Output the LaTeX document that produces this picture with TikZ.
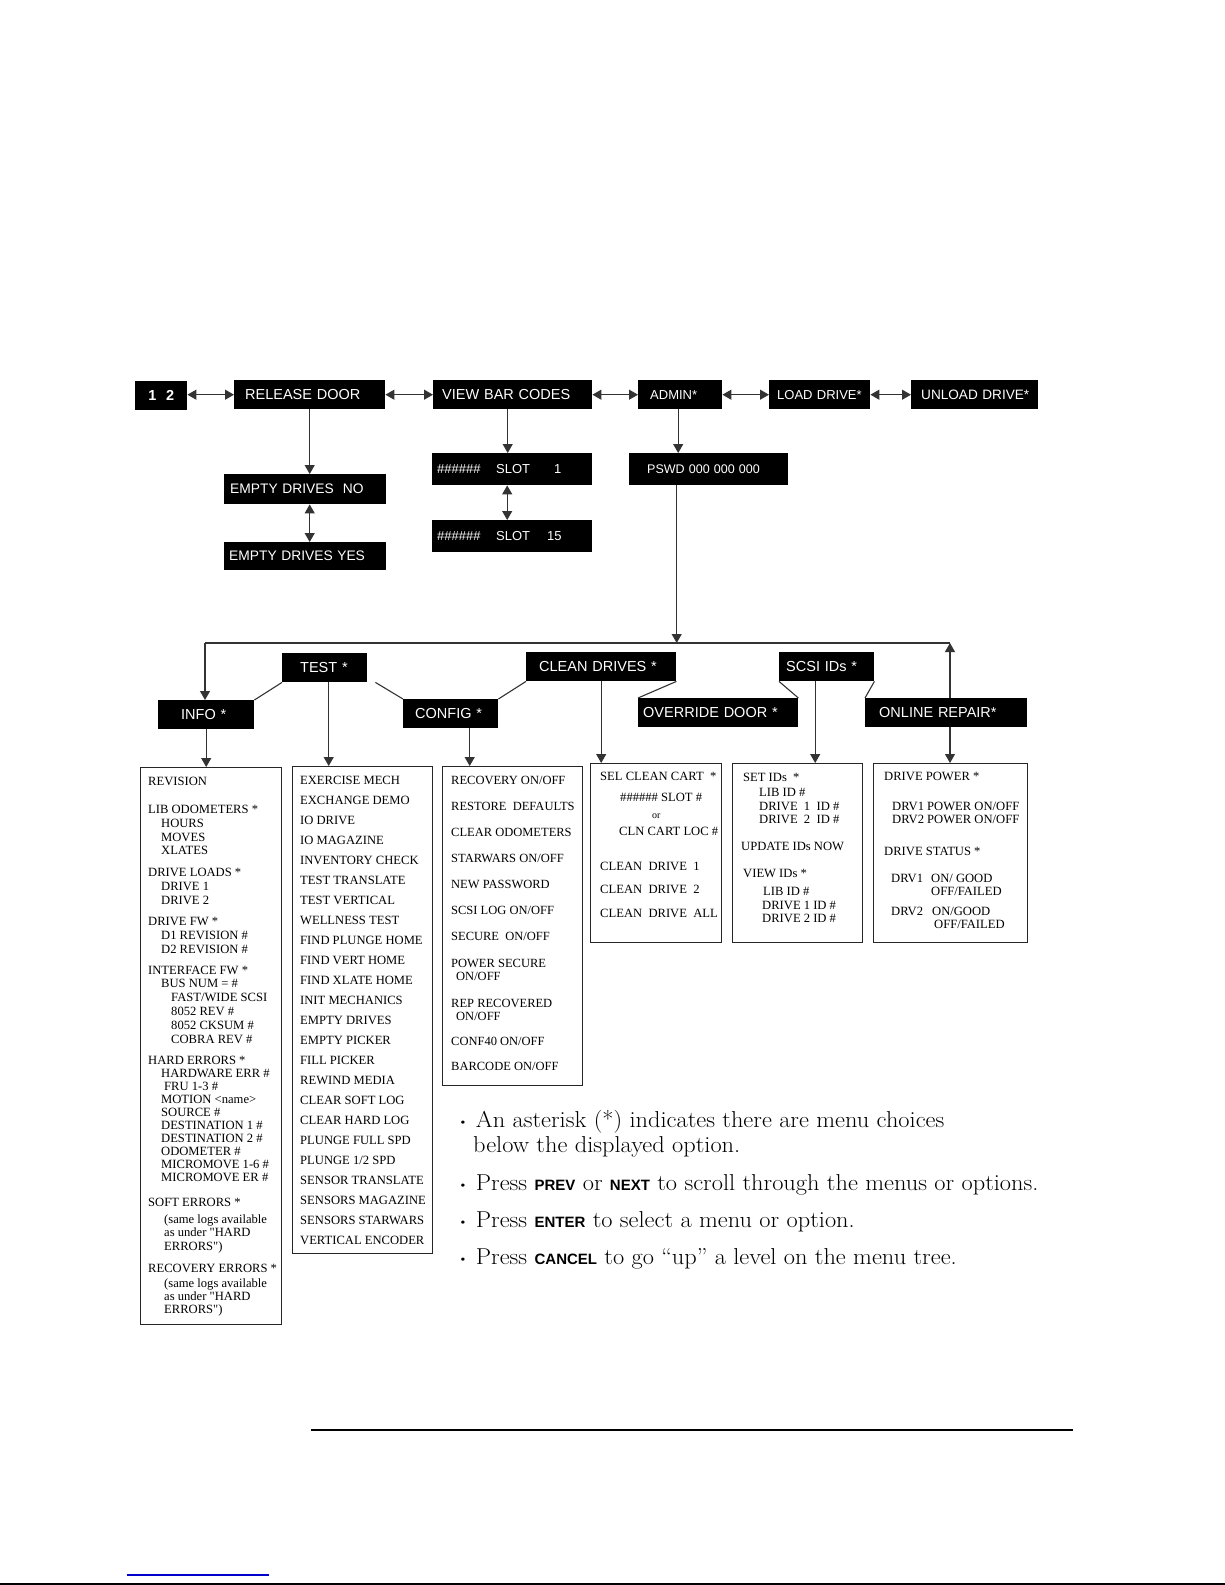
\documentclass[tikz,border=0pt]{standalone}
\usepackage{fontspec}
\newfontfamily\menusans{Liberation Sans}
\newfontfamily\listserif{Liberation Serif}
\newfontfamily\notefont[FakeStretch=1.06,Ligatures=TeX]{Latin Modern Roman}
\usetikzlibrary{arrows.meta}
\newcommand{\menusize}[1]{\menusans\fontsize{#1}{#1}\selectfont}
\newcommand{\listsize}[2]{\listserif\fontsize{#1}{#2}\selectfont}
\newcommand{\indby}[1]{\hspace*{#1pt}}
\newcommand{\btn}[1]{{\menusans\bfseries\fontsize{15}{15}\selectfont #1}}
\newcommand{\dotmark}{\raisebox{2pt}{\fontsize{12}{12}\selectfont\textbullet}}

\begin{document}
\begin{tikzpicture}[x=1pt,y=-1pt,
  menu/.style={fill=black,text=white,anchor=north west,inner ysep=0pt,
               align=left,minimum height=29pt,font=\menusize{14.5}},
  listbox/.style={draw=black!85,line width=1.1pt,anchor=north west,inner sep=0pt},
  listtext/.style={anchor=north west,inner sep=0pt,align=left,font=\listsize{12.6}{13.8}},
  wire/.style={draw=black!80,line width=1.1pt},
  arrowto/.style={-{Triangle[length=9pt,width=10pt]}},
  arrowboth/.style={{Triangle[length=9pt,width=10pt]}-{Triangle[length=9pt,width=10pt]}},
  bullettext/.style={anchor=base west,inner sep=0pt,align=left,font=\notefont\fontsize{23}{25.3}\selectfont}
]
  \useasboundingbox (0,0) rectangle (1225,1585);

  % top row of menus
  \node[menu,text width=44pt,inner xsep=4pt,align=center,
        font=\menusans\bfseries\fontsize{14.5}{14.5}\selectfont] (onetwo) at (135,381) {1\ \ 2};
  \node[menu,text width=129pt,inner xsep=11pt] (release) at (234,380) {RELEASE DOOR};
  \node[menu,text width=141pt,inner xsep=9pt] (viewbar) at (433,380) {VIEW BAR CODES};
  \node[menu,text width=60pt,inner xsep=12pt,font=\menusize{13}] (admin) at (638,380) {ADMIN*};
  \node[menu,text width=85pt,inner xsep=8pt,font=\menusize{13}] (loaddrive) at (769,380) {LOAD DRIVE*};
  \node[menu,text width=113pt,inner xsep=7pt,font=\menusize{13.6}] (unload) at (911,380) {\hspace*{3pt}UNLOAD DRIVE*};

  % second level
  \node[menu,text width=150pt,inner xsep=6pt,minimum height=30pt,font=\menusize{13.8}] (emptyno) at (224,474) {EMPTY DRIVES\ \ NO};
  \node[menu,text width=152pt,inner xsep=5pt,minimum height=28pt,font=\menusize{13.8}] (emptyyes) at (224,542) {EMPTY DRIVES YES};
  \node[menu,text width=150pt,inner xsep=5pt,minimum height=32pt,font=\menusize{13}] (slotfirst) at (432,453)
    {\makebox[59pt][l]{\#\#\#\#\#\#}\makebox[58pt][l]{SLOT}1};
  \node[menu,text width=150pt,inner xsep=5pt,minimum height=32pt,font=\menusize{13}] (slotlast) at (432,520)
    {\makebox[59pt][l]{\#\#\#\#\#\#}\makebox[51pt][l]{SLOT}15};
  \node[menu,text width=123pt,inner xsep=18pt,minimum height=32pt,font=\menusize{12.5}] (pswd) at (629,453) {PSWD 000 000 000};

  % admin menus
  \node[menu,text width=49pt,inner xsep=18pt] (test) at (282,653) {TEST *};
  \node[menu,text width=124pt,inner xsep=13pt] (clean) at (526,652) {CLEAN DRIVES *};
  \node[menu,text width=81pt,inner xsep=7pt] (scsi) at (779,652) {SCSI IDs *};
  \node[menu,text width=50pt,inner xsep=23pt] (info) at (158,700) {INFO *};
  \node[menu,text width=71pt,inner xsep=12pt] (config) at (403,699) {CONFIG *};
  \node[menu,text width=150pt,inner xsep=5pt] (override) at (638,698) {OVERRIDE DOOR *};
  \node[menu,text width=134pt,inner xsep=14pt] (online) at (865,698) {ONLINE REPAIR*};

  % option lists
  \node[listbox,minimum width=141pt,minimum height=557pt] (infobox) at (140,767) {};
  \node[listbox,minimum width=140pt,minimum height=487pt] (testbox) at (292,766) {};
  \node[listbox,minimum width=140pt,minimum height=319pt] (configbox) at (442,766) {};
  \node[listbox,minimum width=131pt,minimum height=179pt] (cleanbox) at (590,763) {};
  \node[listbox,minimum width=130pt,minimum height=179pt] (scsibox) at (732,763) {};
  \node[listbox,minimum width=154pt,minimum height=179pt] (onlinebox) at (873,763) {};

  \node[listtext] (infolist) at (148,777) {REVISION\\[14.2pt]
    LIB ODOMETERS *\\
    \indby{13}HOURS\\
    \indby{13}MOVES\\
    \indby{13}XLATES\\[8.2pt]
    DRIVE LOADS *\\
    \indby{13}DRIVE 1\\
    \indby{13}DRIVE 2\\[7.2pt]
    DRIVE FW *\\
    \indby{13}D1 REVISION \#\\
    \indby{13}D2 REVISION \#\\[7.2pt]
    INTERFACE FW *\\
    \indby{13}BUS NUM = \#\\
    \indby{23}FAST/WIDE SCSI\\
    \indby{23}8052 REV \#\\
    \indby{23}8052 CKSUM \#\\
    \indby{23}COBRA REV \#\\[7.2pt]
    HARD ERRORS *\\[-0.8pt]
    \indby{13}HARDWARE ERR \#\\[-0.8pt]
    \indby{16}FRU 1-3 \#\\[-0.8pt]
    \indby{13}MOTION <name>\\[-0.8pt]
    \indby{13}SOURCE \#\\[-0.8pt]
    \indby{13}DESTINATION 1 \#\\[-0.8pt]
    \indby{13}DESTINATION 2 \#\\[-0.8pt]
    \indby{13}ODOMETER \#\\[-0.8pt]
    \indby{13}MICROMOVE 1-6 \#\\[-0.8pt]
    \indby{13}MICROMOVE ER \#\\[11.2pt]
    SOFT ERRORS *\\[3.2pt]
    \indby{16}(same logs available\\
    \indby{16}as under "HARD\\
    \indby{16}ERRORS")\\[8.2pt]
    RECOVERY ERRORS *\\[1pt]
    \indby{16}(same logs available\\[-0.6pt]
    \indby{16}as under "HARD\\[-0.6pt]
    \indby{16}ERRORS")};

  \node[listtext,font=\listsize{12.6}{20}] (testlist) at (300,776) {EXERCISE MECH\\
    EXCHANGE DEMO\\ IO DRIVE\\ IO MAGAZINE\\ INVENTORY CHECK\\ TEST TRANSLATE\\
    TEST VERTICAL\\ WELLNESS TEST\\ FIND PLUNGE HOME\\ FIND VERT HOME\\
    FIND XLATE HOME\\ INIT MECHANICS\\ EMPTY DRIVES\\ EMPTY PICKER\\ FILL PICKER\\
    REWIND MEDIA\\ CLEAR SOFT LOG\\ CLEAR HARD LOG\\ PLUNGE FULL SPD\\
    PLUNGE 1/2 SPD\\ SENSOR TRANSLATE\\ SENSORS MAGAZINE\\ SENSORS STARWARS\\
    VERTICAL ENCODER};

  \node[listtext,font=\listsize{12.5}{13}] (configlist) at (451,776) {RECOVERY ON/OFF\\[13pt]
    RESTORE\ \ DEFAULTS\\[13pt]
    CLEAR ODOMETERS\\[13pt]
    STARWARS ON/OFF\\[13pt]
    NEW PASSWORD\\[13pt]
    SCSI LOG ON/OFF\\[13pt]
    SECURE\ \ ON/OFF\\[14pt]
    POWER SECURE\\
    \indby{5}ON/OFF\\[14pt]
    REP RECOVERED\\
    \indby{5}ON/OFF\\[12pt]
    CONF40 ON/OFF\\[12pt]
    BARCODE ON/OFF};

  \node[listtext,font=\listsize{12.6}{17}] (cleanlist) at (600,772) {SEL CLEAN CART\ \ *\\[4pt]
    \indby{20}\#\#\#\#\#\# SLOT \#\\
    \indby{52}{\fontsize{10}{10}\selectfont or}\\
    \indby{19}CLN CART LOC \#\\[18pt]
    CLEAN\ \ DRIVE\ \ 1\\[6pt]
    CLEAN\ \ DRIVE\ \ 2\\[7pt]
    CLEAN\ \ DRIVE\ \ ALL};

  \node[listtext,font=\listsize{12.6}{13.5}] (scsilist) at (741,773) {\indby{2}SET IDs\ \ *\\[1.5pt]
    \indby{18}LIB ID \#\\
    \indby{18}DRIVE\ \ 1\ \ ID \#\\
    \indby{18}DRIVE\ \ 2\ \ ID \#\\[13.5pt]
    UPDATE IDs NOW\\[13.5pt]
    \indby{2}VIEW IDs *\\[4.5pt]
    \indby{22}LIB ID \#\\
    \indby{21}DRIVE 1 ID \#\\
    \indby{21}DRIVE 2 ID \#};

  \node[listtext,font=\listsize{12.6}{13}] (onlinelist) at (884,772) {DRIVE POWER *\\[17pt]
    \indby{8}DRV1 POWER ON/OFF\\
    \indby{8}DRV2 POWER ON/OFF\\[19pt]
    DRIVE STATUS *\\[14pt]
    \indby{7}\makebox[40pt][l]{DRV1}ON/ GOOD\\
    \indby{47}OFF/FAILED\\[7pt]
    \indby{7}\makebox[41pt][l]{DRV2}ON/GOOD\\
    \indby{50}OFF/FAILED};

  % connectors between menus
  \coordinate (busL) at (205,643);
  \coordinate (busR) at (950,643);
  \draw[wire,arrowboth] (onetwo.east |- release.west) -- (release.west);
  \draw[wire,arrowboth] (release.east) -- (release.east -| viewbar.west);
  \draw[wire,arrowboth] (viewbar.east) -- (viewbar.east -| admin.west);
  \draw[wire,arrowboth] (admin.east) -- (admin.east -| loaddrive.west);
  \draw[wire,arrowboth] (loaddrive.east) -- (loaddrive.east -| unload.west);
  \draw[wire,arrowto] (release.south) -- (release.south |- emptyno.north);
  \draw[wire,arrowboth] (emptyno.south -| release.south) -- (emptyyes.north -| release.south);
  \draw[wire,arrowto] ([xshift=-5pt]viewbar.south) -- ([xshift=-5pt]viewbar.south |- slotfirst.north);
  \draw[wire,arrowboth] ([xshift=-5pt]slotfirst.south) -- ([xshift=-5pt]slotfirst.south |- slotlast.north);
  \draw[wire,arrowto] ([xshift=-2pt]admin.south) -- ([xshift=-2pt]admin.south |- pswd.north);
  \draw[wire,arrowto] ([xshift=-32pt]pswd.south) -- ([xshift=-32pt]pswd.south |- busL);
  \draw[wire] (busL) -- (busR);
  \draw[wire,arrowto] (busL) -- (busL |- info.north);
  \draw[wire,arrowto] (online.north -| busR) -- (busR);
  \draw[wire] (info.north east) -- (test.south west);
  \draw[wire] ([xshift=8pt]test.south east) -- (config.north west);
  \draw[wire] (config.north east) -- (clean.south west);
  \draw[wire] (clean.south east) -- (override.north west);
  \draw[wire] (scsi.south west) -- (override.north east);
  \draw[wire] (scsi.south east) -- (online.north west);

  % menus down to their lists
  \draw[wire,arrowto] (info.south) -- (info.south |- infobox.north);
  \draw[wire,arrowto] ([xshift=4pt]test.south) -- ([xshift=4pt]test.south |- testbox.north);
  \draw[wire,arrowto] ([xshift=19pt]config.south) -- ([xshift=19pt]config.south |- configbox.north);
  \draw[wire,arrowto] (clean.south) -- (clean.south |- cleanbox.north);
  \draw[wire,arrowto] ([xshift=-11.5pt]scsi.south) -- ([xshift=-11.5pt]scsi.south |- scsibox.north);
  \draw[wire,arrowto] (online.south -| busR) -- (busR |- onlinebox.north);

  % notes
  \node[bullettext] (noteone) at (458,1127) {\dotmark\hspace{8pt}An asterisk (*) indicates there are menu choices};
  \node[bullettext] (noteonecont) at (473,1152) {below the displayed option.};
  \node[bullettext] (notetwo) at (458,1190) {\dotmark\hspace{8pt}Press \btn{PREV} or \btn{NEXT} to scroll through the menus or options.};
  \node[bullettext] (notethree) at (458,1227) {\dotmark\hspace{8pt}Press \btn{ENTER} to select a menu or option.};
  \node[bullettext] (notefour) at (458,1264) {\dotmark\hspace{8pt}Press \btn{CANCEL} to go “up” a level on the menu tree.};

  % page rules
  \draw[line width=2.5pt] (311,1430) -- (1073,1430);
  \draw[blue!80!black,line width=1.3pt] (127,1575) -- (269,1575);
  \draw[line width=1.5pt] (0,1584) -- (1225,1584);
\end{tikzpicture}
\end{document}
